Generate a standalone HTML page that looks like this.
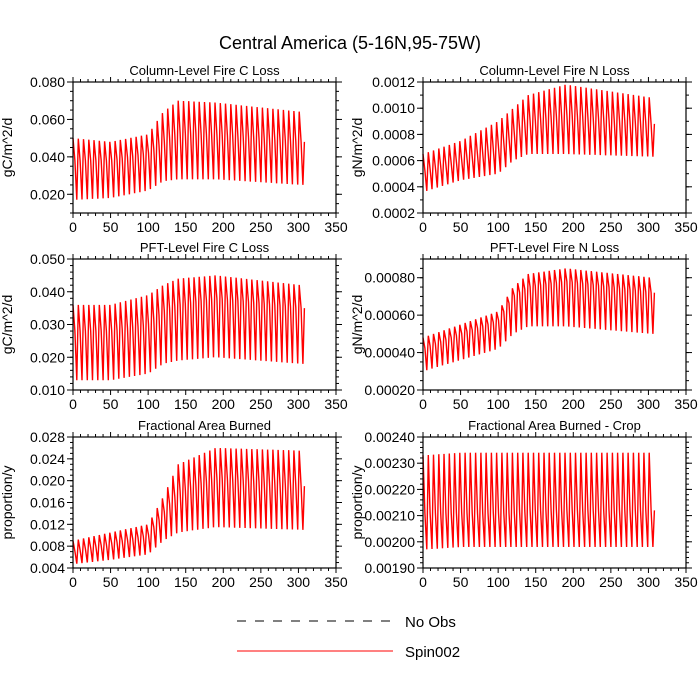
<!DOCTYPE html>
<html><head><meta charset="utf-8"><style>
body{margin:0;background:#fff}
svg{display:block;font-family:"Liberation Sans",sans-serif}
</style></head><body>
<svg id="c" width="700" height="700">
<text x="350" y="49" text-anchor="middle" font-size="18">Central America (5-16N,95-75W)</text>
<line x1="237" y1="621" x2="393" y2="621" stroke="#000" stroke-dasharray="9,9"/>
<text x="405" y="627" font-size="15">No Obs</text>
<line x1="237" y1="651" x2="393" y2="651" stroke="#f00"/>
<text x="405" y="657" font-size="15">Spin002</text>
</svg>
<script>
const knots=[0,50,100,120,140,190,305];
const xTicks=[0,50,100,150,200,250,300,350];
const p1Hi=[0.050,0.048,0.052,0.064,0.070,0.069,0.064];
const p1Mid=[0.038,0.038,0.042,0.048,0.053,0.052,0.048];
const p1Lo=[0.017,0.018,0.022,0.027,0.028,0.028,0.025];
const p2Hi=[0.00065,0.00075,0.0009,0.0010,0.00110,0.00118,0.00108];
const p2Mid=[0.00052,0.0006,0.0007,0.0008,0.0009,0.00095,0.00088];
const p2Lo=[0.00036,0.00045,0.0005,0.0006,0.00065,0.00065,0.00063];
const p3Hi=[0.036,0.036,0.039,0.042,0.044,0.045,0.042];
const p3Mid=[0.028,0.028,0.030,0.034,0.036,0.038,0.035];
const p3Lo=[0.013,0.013,0.015,0.018,0.019,0.020,0.018];
const p4Hi=[0.00048,0.00055,0.00062,0.00075,0.00082,0.00085,0.00080];
const p4Mid=[0.00042,0.0005,0.00057,0.0007,0.00075,0.00078,0.00072];
const p4Lo=[0.0003,0.00036,0.00042,0.0005,0.00054,0.00054,0.0005];
const p5Hi=[0.009,0.0105,0.012,0.017,0.023,0.026,0.0255];
const p5Mid=[0.007,0.0085,0.010,0.014,0.018,0.0205,0.019];
const p5Lo=[0.0047,0.0055,0.0065,0.009,0.0105,0.0115,0.011];
const p6Hi=[0.00233,0.00234,0.00234,0.00234,0.00234,0.00234,0.00234];
const p6Mid=[0.00211,0.00211,0.00211,0.00211,0.00212,0.00212,0.00212];
const p6Lo=[0.00197,0.00198,0.00198,0.00198,0.00198,0.00198,0.00198];
const t1=["0.020","0.040","0.060","0.080"];
const t2=["0.0002","0.0004","0.0006","0.0008","0.0010","0.0012"];
const t3=["0.010","0.020","0.030","0.040","0.050"];
const t4=["0.00020","0.00040","0.00060","0.00080"];
const t5=["0.004","0.008","0.012","0.016","0.020","0.024","0.028"];
const t6=["0.00190","0.00200","0.00210","0.00220","0.00230","0.00240"];
const NS="http://www.w3.org/2000/svg";
const svg=document.getElementById('c');
function mk(tag,attrs,parent){const e=document.createElementNS(NS,tag);for(const k in attrs)e.setAttribute(k,attrs[k]);(parent||svg).appendChild(e);return e;}
function interp(arr,x){for(let i=0;i<knots.length-1;i++){if(x<=knots[i+1]){const f=(x-knots[i])/(knots[i+1]-knots[i]);return arr[i]+f*(arr[i+1]-arr[i]);}}return arr[arr.length-1];}
const panels=[
{n:'column-fire-c-loss',title:'Column-Level Fire C Loss',yl:'gC/m^2/d',L:73,T:82,ymin:0.01,ymax:0.08,minor:0.005,ticks:t1,hi:p1Hi,mid:p1Mid,lo:p1Lo},
{n:'column-fire-n-loss',title:'Column-Level Fire N Loss',yl:'gN/m^2/d',L:423,T:82,ymin:0.0002,ymax:0.0012,minor:0.0001,ticks:t2,hi:p2Hi,mid:p2Mid,lo:p2Lo},
{n:'pft-fire-c-loss',title:'PFT-Level Fire C Loss',yl:'gC/m^2/d',L:73,T:259,ymin:0.01,ymax:0.05,minor:0.002,ticks:t3,hi:p3Hi,mid:p3Mid,lo:p3Lo},
{n:'pft-fire-n-loss',title:'PFT-Level Fire N Loss',yl:'gN/m^2/d',L:423,T:259,ymin:0.0002,ymax:0.0009,minor:0.00005,ticks:t4,hi:p4Hi,mid:p4Mid,lo:p4Lo},
{n:'fractional-area-burned',title:'Fractional Area Burned',yl:'proportion/y',L:73,T:437,ymin:0.004,ymax:0.028,minor:0.001,ticks:t5,hi:p5Hi,mid:p5Mid,lo:p5Lo},
{n:'fractional-area-burned-crop',title:'Fractional Area Burned - Crop',yl:'proportion/y',L:423,T:437,ymin:0.0019,ymax:0.0024,minor:0.00002,ticks:t6,hi:p6Hi,mid:p6Mid,lo:p6Lo}];
const W=263,H=131;
panels.forEach(p=>{
 const g=mk('g',{});
 
 
 const xs=v=>p.L+v/350*W, ys=v=>p.T+H-(v-p.ymin)/(p.ymax-p.ymin)*H;
 let pts=[];
 for(let c=0;c*7<=305;c++){const x0=c*7;
  pts.push([x0,interp(p.hi,x0)]);pts.push([x0+2.5,interp(p.mid,x0+2.5)]);pts.push([x0+5,interp(p.lo,x0+5)]);}
 pts.push([308,interp(p.mid,308)]);
 const path=mk('polyline',{points:pts.map(q=>xs(q[0]).toFixed(1)+','+ys(q[1]).toFixed(1)).join(' '),fill:'none',stroke:'#f00','stroke-width':1.4},g);
 
 
 const fr=mk('rect',{x:p.L,y:p.T,width:W,height:H,fill:'none',stroke:'#000','stroke-width':1.2},g);
 
 
 xTicks.forEach((v,i)=>{const x=xs(v);
  mk('line',{x1:x,y1:p.T+H,x2:x,y2:p.T+H+5,stroke:'#000'},g);
  mk('line',{x1:x,y1:p.T,x2:x,y2:p.T-5,stroke:'#000'},g);
  const t=mk('text',{x:x,y:p.T+H+19,'text-anchor':'middle','font-size':14},g);t.textContent=v;
  
  
  if(i<xTicks.length-1)for(let m=1;m<5;m++){const xm=xs(v+m*10);
   mk('line',{x1:xm,y1:p.T+H,x2:xm,y2:p.T+H+3,stroke:'#000'},g);
   mk('line',{x1:xm,y1:p.T,x2:xm,y2:p.T-3,stroke:'#000'},g);}
 });
 for(let v=p.ymin;v<=p.ymax+1e-12;v+=p.minor){const y=ys(v);
  mk('line',{x1:p.L,y1:y,x2:p.L-3,y2:y,stroke:'#000'},g);
  mk('line',{x1:p.L+W,y1:y,x2:p.L+W+3,y2:y,stroke:'#000'},g);}
 p.ticks.forEach(s=>{const y=ys(parseFloat(s));
  mk('line',{x1:p.L,y1:y,x2:p.L-6,y2:y,stroke:'#000'},g);
  mk('line',{x1:p.L+W,y1:y,x2:p.L+W+6,y2:y,stroke:'#000'},g);
  const t=mk('text',{x:p.L-8,y:y+5,'text-anchor':'end','font-size':14},g);t.textContent=s;
  
  });
 const tt=mk('text',{x:p.L+W/2,y:p.T-7,'text-anchor':'middle','font-size':13},g);tt.textContent=p.title;
 
 
 const yl=mk('text',{x:0,y:0,'text-anchor':'middle','font-size':14,transform:`translate(${p.L-61},${p.T+H/2}) rotate(-90)`},g);yl.textContent=p.yl;
 
 
});
</script>
</body></html>
